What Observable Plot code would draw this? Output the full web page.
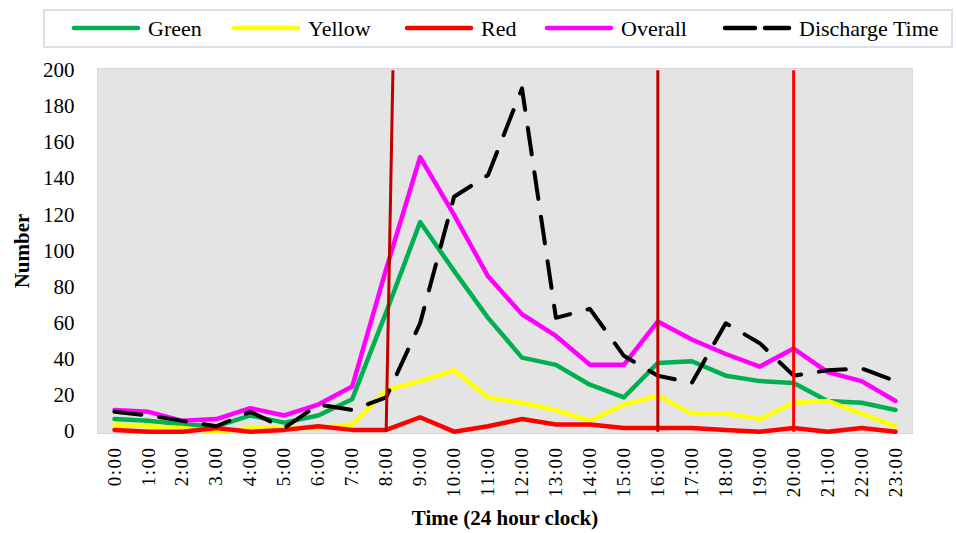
<!DOCTYPE html>
<html>
<head>
<meta charset="utf-8">
<script src="https://cdn.jsdelivr.net/npm/d3@7"></script>
<script src="https://cdn.jsdelivr.net/npm/@observablehq/plot@0.6"></script>
<style>
  html, body { margin: 0; padding: 0; background: #ffffff; }
  body { width: 956px; height: 533px; overflow: hidden; font-family: "Liberation Serif", "Times New Roman", serif; }
  #legend { height: 50px; }
  #chart svg g[aria-label="x-axis tick label"] text { letter-spacing: 1.5px; }
</style>
</head>
<body>
<div id="legend"></div>
<div id="chart"></div>
<script>
// ---- data ----
const hours = [0,1,2,3,4,5,6,7,8,9,10,11,12,13,14,15,16,17,18,19,20,21,22,23];
const hourLabels = ["0:00","1:00","2:00","3.00","4:00","5:00","6:00","7:00","8:00","9:00","10:00","11:00",
                    "12:00","13:00","14:00","15:00","16:00","17:00","18:00","19:00","20:00","21:00","22:00","23:00"];
const seriesNames = ["Green","Yellow","Red","Overall","Discharge Time"];
const green     = [7,6,4,3,9,5,9,18,66,116,89,63,41,37,26,19,38,39,31,28,27,17,16,12];
const yellow    = [4,3,2,0,2,2,2,4,23,28,34,19,16,12,6,15,20,10,10,7,16,17,10,3];
const red       = [1,0,0,2,0,1,3,1,1,8,0,3,7,4,4,2,2,2,1,0,2,0,2,0];
const overall   = [12,11,6,7,13,9,15,25,90,152,120,86,65,53,37,37,61,51,43,36,46,33,28,17];
const discharge = [11,9,6,3,11,2,15,12,19,60,130,142,190,63,68,42,31,27,60,49,31,34,35,28];
const shiftHours    = [8,16,20];
const shiftHoursTop = [8.2,16,20];
const yTicks = [0,20,40,60,80,100,120,140,160,180,200];
const yRange = [0,200];

// ---- styles ----
const colors = ["#00B050","#FFFF00","#FF0000","#FF00FF","#000000"];
const font = "'Liberation Serif', 'Times New Roman', serif";

// ---- legend ----
const lsvg = d3.select("#legend").append("svg").attr("width", 956).attr("height", 50);
lsvg.append("rect").attr("x", 44).attr("y", 10).attr("width", 908).attr("height", 37)
  .attr("fill", "#ffffff").attr("stroke", "#D9E0EC").attr("stroke-width", 2);
const legendX = [72, 232, 405, 545, 723];
seriesNames.forEach((name, i) => {
  const x0 = legendX[i];
  const ln = lsvg.append("line").attr("x1", x0 + 2).attr("x2", x0 + 66).attr("y1", 28).attr("y2", 28)
    .attr("stroke", colors[i]).attr("stroke-width", 4.5).attr("stroke-linecap", "round");
  if (i === 4) ln.attr("stroke-dasharray", "30,10");
  lsvg.append("text").attr("x", x0 + 76).attr("y", 28).attr("dominant-baseline", "central")
    .attr("font-family", font).attr("font-size", 22).attr("fill", "#000").text(name);
});

// ---- chart ----
const seriesData = [green, yellow, red, overall, discharge];
const lineMarks = seriesData.map((vals, i) => Plot.line(hours, {
  x: hours, y: vals, stroke: colors[i],
  strokeWidth: i === 4 ? 4 : 4.5,
  strokeDasharray: i === 4 ? "27,18" : null,
  strokeLinecap: "round", strokeLinejoin: "round"
}));

const chart = Plot.plot({
  width: 956,
  height: 483,
  marginTop: 18,
  marginBottom: 100,
  marginLeft: 97,
  marginRight: 44,
  style: { fontFamily: font, background: "#ffffff", color: "#000" },
  x: { type: "linear", domain: [-0.5, 23.5] },
  y: { domain: [-1, 201] },
  marks: [
    Plot.frame({ fill: "#E4E4E4", stroke: "#D8D8D8" }),
    ...lineMarks,
    Plot.link([0], { x1: () => shiftHours[0], x2: () => shiftHoursTop[0], y1: () => yRange[0], y2: () => yRange[1], stroke: "#C00000", strokeWidth: 3 }),
    Plot.link([1], { x1: () => shiftHours[1], x2: () => shiftHoursTop[1], y1: () => yRange[0], y2: () => yRange[1], stroke: "#C00000", strokeWidth: 3 }),
    Plot.link([2], { x1: () => shiftHours[2], x2: () => shiftHoursTop[2], y1: () => yRange[0], y2: () => yRange[1], stroke: "#FF0000", strokeWidth: 3 }),
    Plot.axisY({ ticks: yTicks, tickSize: 0, tickPadding: 23, fontSize: 21, label: null }),
    Plot.axisX({ ticks: hours, tickFormat: i => hourLabels[i], tickRotate: -90, tickSize: 0, tickPadding: 13, fontSize: 19, label: null }),
    Plot.text(["Number"], { frameAnchor: "left", dx: -75, rotate: -90, textAnchor: "middle", fontSize: 21, fontWeight: "bold", fill: "#000" }),
    Plot.text(["Time (24 hour clock)"], { frameAnchor: "bottom", dy: 85, textAnchor: "middle", lineAnchor: "middle", fontSize: 21, fontWeight: "bold", fill: "#000" })
  ]
});
document.getElementById("chart").appendChild(chart);
</script>
</body>
</html>
